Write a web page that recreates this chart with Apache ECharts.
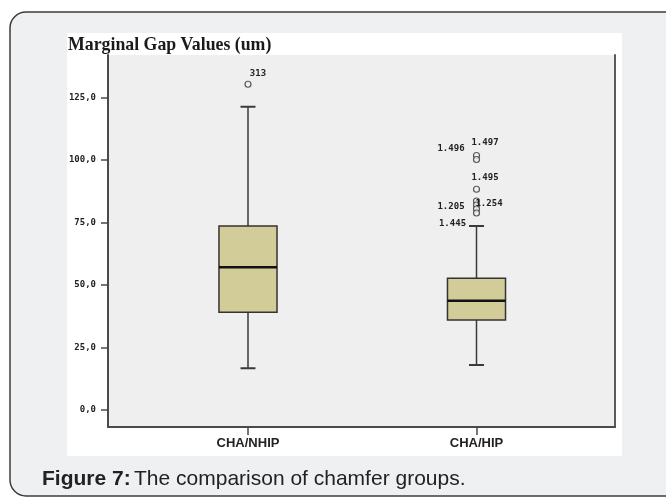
<!DOCTYPE html>
<html>
<head>
<meta charset="utf-8">
<script src="https://cdn.jsdelivr.net/npm/echarts@6/dist/echarts.min.js"></script>
<style>
html,body{margin:0;padding:0;background:#ffffff;}
#chart{width:666px;height:497px;}
</style>
</head>
<body>
<div id="chart"></div>
<script>
// ---- data ----
const categories = ['CHA/NHIP', 'CHA/HIP'];
const lowWhisker = [16.7, 18.0];
const q1 = [39.1, 36.0];
const median = [57.1, 43.7];
const q3 = [73.6, 52.7];
const highWhisker = [121.3, 73.6];
const outliersNHIP = [130.3];
const outlierIdsNHIP = ['313'];
const outliersHIP = [101.8, 100.2, 88.3, 83.6, 82.0, 80.4, 78.8];
const outlierIdsHIP = ['1.497', '1.496', '1.495', '1.254', '1.205', '', ''];
const whiskerCaseIds = ['', '1.445'];
const yTicks = [0, 25, 50, 75, 100, 125];

// ---- styling (label placement by case id) ----
const labelOffsets = {
  '313': [10, -11], '1.497': [8.5, -12.5], '1.496': [-25.5, -10.5],
  '1.495': [8.5, -11.3], '1.254': [12.5, 3], '1.205': [-25.5, 1.7], '1.445': [-24, -2]
};
const monoFont = 'DejaVu Sans Mono';

const boxData = categories.map((c, i) => [i, lowWhisker[i], q1[i], median[i], q3[i], highWhisker[i]]);

function pt(cat, v, id, showSymbol) {
  const o = { value: [cat, v], name: id };
  if (!showSymbol) { o.symbolSize = 0.01; o.itemStyle = { opacity: 0 }; }
  if (id) {
    o.label = { show: true, position: 'inside', offset: labelOffsets[id] || [0, -10], opacity: 1 };
  }
  return o;
}
const scatterData = [];
outliersNHIP.forEach((v, k) => scatterData.push(pt(0, v, outlierIdsNHIP[k], true)));
outliersHIP.forEach((v, k) => scatterData.push(pt(1, v, outlierIdsHIP[k], true)));
whiskerCaseIds.forEach((id, i) => { if (id) scatterData.push(pt(i, highWhisker[i], id, false)); });

const yMin = -6.8, yMax = 142;
const gridTop = 55, gridBottom = 70;

const chart = echarts.init(document.getElementById('chart'), null, { renderer: 'canvas' });
chart.setOption({
  backgroundColor: '#ffffff',
  animation: false,
  graphic: [
    { type: 'rect', z: -10, shape: { x: 10, y: 12, width: 720, height: 484, r: 16 },
      style: { fill: '#eff0f2', stroke: '#3c3c3c', lineWidth: 1.5 } },
    { type: 'rect', z: -9, shape: { x: 67, y: 33, width: 555, height: 423 },
      style: { fill: '#ffffff' } },
    { type: 'text', z: 10, x: 68, y: 45,
      style: { text: 'Marginal Gap Values (um)', font: 'bold 17.8px "Liberation Serif"', fill: '#1a1a1a', verticalAlign: 'middle' } },
    { type: 'text', z: 10, x: 42, y: 479,
      style: {
        text: '{b|Figure 7:} {n|The comparison of chamfer groups.}',
        verticalAlign: 'middle',
        rich: {
          b: { fontFamily: 'Liberation Sans', fontWeight: 'bold', fontSize: 21, fill: '#222' },
          n: { fontFamily: 'Liberation Sans', fontSize: 21, fill: '#222' }
        }
      } }
  ],
  grid: [
    { left: 108, right: 51, top: gridTop, bottom: gridBottom, show: true, backgroundColor: '#efefef', borderWidth: 0 },
    { left: 133.75, right: 75.25, top: gridTop, bottom: gridBottom }
  ],
  xAxis: [
    { gridIndex: 0, type: 'value', min: 0, max: 1, axisLine: { show: true, onZero: false, lineStyle: { color: '#4a4a4a', width: 2 } },
      axisTick: { show: false }, axisLabel: { show: false }, splitLine: { show: false } },
    { gridIndex: 1, type: 'category', data: categories, boundaryGap: true, position: 'bottom',
      axisLine: { show: false, onZero: false }, axisTick: { show: true, alignWithLabel: true, length: 8, lineStyle: { color: '#4a4a4a', width: 1.5 } },
      axisLabel: { margin: 10, fontFamily: 'Liberation Sans', fontWeight: 'bold', fontSize: 13, color: '#222' },
      splitLine: { show: false } }
  ],
  yAxis: [
    { gridIndex: 0, type: 'value', min: yMin, max: yMax, position: 'left',
      axisLine: { show: true, onZero: false, lineStyle: { color: '#4a4a4a', width: 2 } },
      axisTick: { show: true, length: 7, customValues: yTicks, lineStyle: { color: '#4a4a4a', width: 1.5 } },
      axisLabel: { customValues: yTicks, margin: 12, fontFamily: monoFont, fontSize: 9, fontWeight: 'bold', color: '#222',
        formatter: v => v.toFixed(1).replace('.', ',') },
      splitLine: { show: false } },
    { gridIndex: 0, type: 'value', min: yMin, max: yMax, position: 'right',
      axisLine: { show: true, onZero: false, lineStyle: { color: '#5a5a5a', width: 2 } },
      axisTick: { show: false }, axisLabel: { show: false }, splitLine: { show: false } },
    { gridIndex: 1, type: 'value', min: yMin, max: yMax, show: false }
  ],
  series: [
    {
      type: 'custom', xAxisIndex: 1, yAxisIndex: 2, data: boxData, z: 5,
      renderItem: function (params, api) {
        const idx = api.value(0);
        const pLow = api.coord([idx, api.value(1)]);
        const pQ1 = api.coord([idx, api.value(2)]);
        const pMed = api.coord([idx, api.value(3)]);
        const pQ3 = api.coord([idx, api.value(4)]);
        const pHigh = api.coord([idx, api.value(5)]);
        const band = api.size([1, 0])[0];
        const bw = band * 0.254, hw = bw / 2, cap = 7.5, x = pMed[0];
        const ls = { stroke: '#3a3a3a', lineWidth: 1.5 };
        return {
          type: 'group',
          children: [
            { type: 'line', shape: { x1: x, y1: pLow[1], x2: x, y2: pQ1[1] }, style: ls },
            { type: 'line', shape: { x1: x, y1: pQ3[1], x2: x, y2: pHigh[1] }, style: ls },
            { type: 'line', shape: { x1: x - cap, y1: pLow[1], x2: x + cap, y2: pLow[1] }, style: { stroke: '#3a3a3a', lineWidth: 2 } },
            { type: 'line', shape: { x1: x - cap, y1: pHigh[1], x2: x + cap, y2: pHigh[1] }, style: { stroke: '#3a3a3a', lineWidth: 2 } },
            { type: 'rect', shape: { x: x - hw, y: pQ3[1], width: bw, height: pQ1[1] - pQ3[1] },
              style: { fill: '#d2cd98', stroke: '#333333', lineWidth: 1.5 } },
            { type: 'line', shape: { x1: x - hw, y1: pMed[1], x2: x + hw, y2: pMed[1] }, style: { stroke: '#111111', lineWidth: 2.5 } }
          ]
        };
      }
    },
    {
      type: 'scatter', xAxisIndex: 1, yAxisIndex: 2, z: 6, symbol: 'circle', symbolSize: 6,
      itemStyle: { color: '#efefef', borderColor: '#333', borderWidth: 1.2 },
      label: { show: false, formatter: p => p.name, fontFamily: monoFont, fontSize: 9, fontWeight: 'bold', color: '#222' },
      emphasis: { disabled: true },
      data: scatterData
    }
  ]
});
</script>
</body>
</html>
